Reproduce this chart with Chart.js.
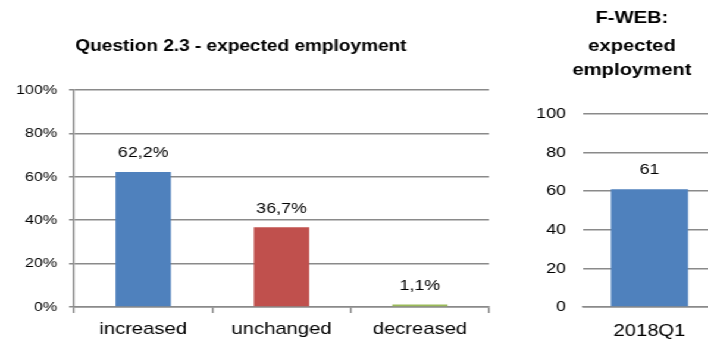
<!DOCTYPE html>
<html>
<head>
<meta charset="utf-8">
<script src="https://cdn.jsdelivr.net/npm/chart.js@4/dist/chart.umd.min.js"></script>
<style>
  html, body { margin: 0; padding: 0; background: #fff; overflow: hidden; }
  #stage { position: absolute; left: 0; top: 0; width: 610px; height: 342px; transform: scaleX(1.19); transform-origin: 0 0; }
  #questionChart { position: absolute; left: 0; top: 0; }
  #fwebChart { position: absolute; left: 430px; top: 0; }
</style>
</head>
<body>
<div id="stage">
  <canvas id="questionChart" width="420" height="342"></canvas>
  <canvas id="fwebChart" width="180" height="342"></canvas>
</div>
<script>
const questionTitle = ["Question 2.3 - expected employment"];
const questionCategories = ["increased", "unchanged", "decreased"];
const questionShares = [62.2, 36.7, 1.1];

const fwebTitle = ["F-WEB:", "expected", "employment"];
const fwebPeriods = ["2018Q1"];
const fwebValues = [61];

const color = {
  Blue: "#4F81BD",
  Red: "#C0504D",
  Green: "#9BBB59",
  Grid: "#8a8a8a",
  Text: "#000000",
};
const fontFamily = "'Liberation Sans', Arial, sans-serif";

Chart.defaults.font.family = fontFamily;
Chart.defaults.color = color.Text;

// bold heading text centred at x, one baseline per line
function makeHeadline(lines, x, baselines, size) {
  return {
    id: "headline",
    afterDraw(chart) {
      const ctx = chart.ctx;
      ctx.save();
      ctx.font = "bold " + size + "px " + fontFamily;
      ctx.fillStyle = color.Text;
      ctx.textAlign = "center";
      ctx.textBaseline = "alphabetic";
      lines.forEach((line, i) => ctx.fillText(line, x, baselines[i]));
      ctx.restore();
    },
  };
}

// value written above each bar
function makeValueLabels(format, size) {
  return {
    id: "valueLabels",
    afterDatasetsDraw(chart) {
      const ctx = chart.ctx;
      const values = chart.data.datasets[0].data;
      ctx.save();
      ctx.font = size + "px " + fontFamily;
      ctx.fillStyle = color.Text;
      ctx.textAlign = "center";
      ctx.textBaseline = "middle";
      chart.getDatasetMeta(0).data.forEach((bar, i) => {
        ctx.fillText(format(values[i]), bar.x, bar.y - 19);
      });
      ctx.restore();
    },
  };
}

function makeQuestionChart() {
  const questionChartData = {
    labels: questionCategories,
    datasets: [
      {
        data: questionShares,
        backgroundColor: [color.Blue, color.Red, color.Green],
        borderWidth: 0,
        categoryPercentage: 1,
        barPercentage: 0.4,
      },
    ],
  };

  const questionChartConfig = {
    type: "bar",
    data: questionChartData,
    options: {
      responsive: false,
      animation: false,
      layout: { padding: { top: 90, right: 9, bottom: 0, left: 0 } },
      plugins: {
        legend: { display: false },
        title: { display: false },
        tooltip: { enabled: false },
      },
      scales: {
        y: {
          min: 0,
          max: 100,
          afterFit: (scale) => { scale.width = 62.2; },
          ticks: {
            stepSize: 20,
            padding: 10,
            font: { size: 13.5 },
            color: color.Text,
            callback: (v) => v + "%",
          },
          grid: { color: color.Grid, lineWidth: 1.5, tickLength: 4.2 },
          border: { display: true, color: color.Grid, width: 1.5 },
        },
        x: {
          afterFit: (scale) => { scale.height = 35; },
          ticks: { padding: 6, font: { size: 17 }, color: color.Text },
          grid: { drawOnChartArea: false, drawTicks: true, tickLength: 6, color: color.Grid, lineWidth: 1.5, offset: true },
          border: { display: true, color: color.Grid, width: 1.5 },
        },
      },
    },
    plugins: [
      makeHeadline(questionTitle, 202.5, [51], 16),
      makeValueLabels((v) => v.toFixed(1).replace(".", ",") + "%", 15),
    ],
  };

  new Chart(document.getElementById("questionChart"), questionChartConfig);
}

function makeFwebChart() {
  const fwebChartData = {
    labels: fwebPeriods,
    datasets: [
      {
        data: fwebValues,
        backgroundColor: color.Blue,
        borderWidth: 0,
        categoryPercentage: 1,
        barPercentage: 0.58,
      },
    ],
  };

  const fwebChartConfig = {
    type: "bar",
    data: fwebChartData,
    options: {
      responsive: false,
      animation: false,
      layout: { padding: { top: 114, right: 8.3, bottom: 0, left: 0 } },
      plugins: {
        legend: { display: false },
        title: { display: false },
        tooltip: { enabled: false },
      },
      scales: {
        y: {
          min: 0,
          max: 100,
          afterFit: (scale) => { scale.width = 59.9; },
          ticks: { stepSize: 20, padding: 14.3, font: { size: 15 }, color: color.Text },
          grid: { color: color.Grid, lineWidth: 1.5, drawTicks: false },
          border: { display: false },
        },
        x: {
          afterFit: (scale) => { scale.height = 35; },
          ticks: { padding: 6, font: { size: 17 }, color: color.Text },
          grid: { display: false },
          border: { display: true, color: color.Grid, width: 1.5 },
        },
      },
    },
    plugins: [
      makeHeadline(fwebTitle, 101.1, [23, 51, 75], 17),
      makeValueLabels((v) => String(v), 15),
    ],
  };

  new Chart(document.getElementById("fwebChart"), fwebChartConfig);
}

makeQuestionChart();
makeFwebChart();
</script>
</body>
</html>
